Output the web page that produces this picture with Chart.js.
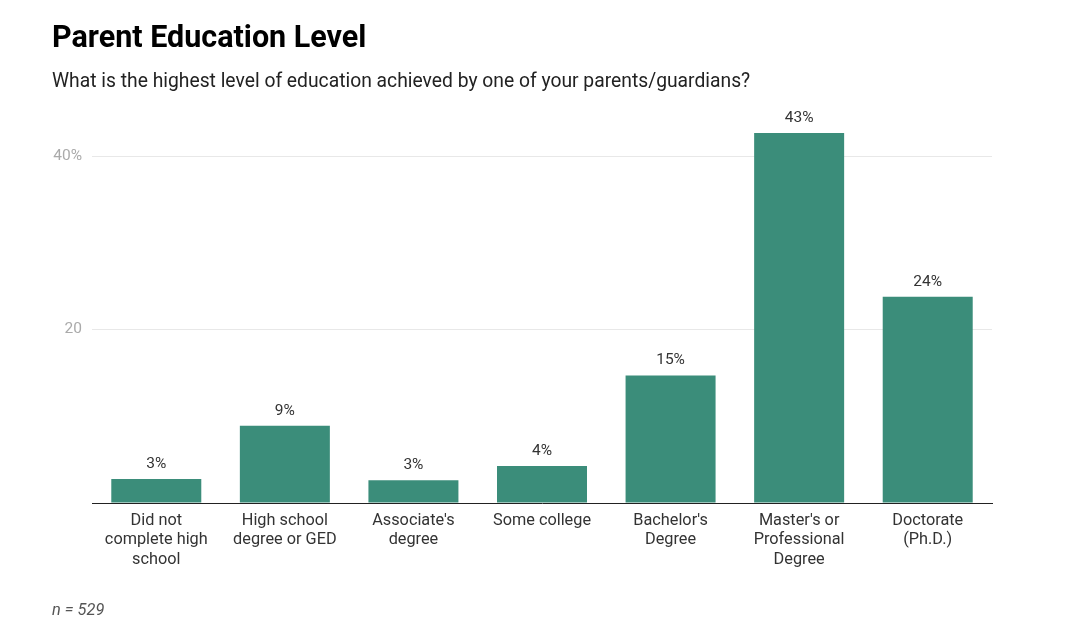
<!DOCTYPE html>
<html>
<head>
<meta charset="utf-8">
<script src="https://cdn.jsdelivr.net/npm/chart.js@4"></script>
<style>
  html, body { margin:0; padding:0; background:#fff; }
  body { width:1080px; height:625px; position:relative; overflow:hidden; font-family: Roboto, "Noto Sans", sans-serif; }
  .t { position:absolute; left:52px; line-height:1; white-space:nowrap; }
  #title { top:22px; font-size:30.5px; font-weight:700; color:#000; }
  #subtitle { top:71px; font-size:19.3px; color:#222; }
  #note { top:602px; font-size:16.4px; font-style:italic; color:#555; }
  #wrap { position:absolute; left:0; top:0; width:1080px; height:625px; }
</style>
</head>
<body>
<div id="wrap"><canvas id="c" width="1080" height="625"></canvas></div>
<div class="t" id="title">Parent Education Level</div>
<div class="t" id="subtitle">What is the highest level of education achieved by one of your parents/guardians?</div>
<div class="t" id="note">n = 529</div>
<script>
const categories = [
  ["Did not", "complete high", "school"],
  ["High school", "degree or GED"],
  ["Associate's", "degree"],
  ["Some college"],
  ["Bachelor's", "Degree"],
  ["Master's or", "Professional", "Degree"],
  ["Doctorate", "(Ph.D.)"]
];
const values = [2.76, 8.9, 2.61, 4.26, 14.71, 42.66, 23.77];
const valueLabels = ["3%", "9%", "3%", "4%", "15%", "43%", "24%"];
const yTickLabels = { 20: "20", 40: "40%" };

const labelPlugin = {
  id: 'barLabels',
  afterDatasetsDraw(chart) {
    const ctx = chart.ctx;
    const meta = chart.getDatasetMeta(0);
    ctx.save();
    ctx.font = '15.5px Roboto, "Noto Sans", sans-serif';
    ctx.fillStyle = '#333';
    ctx.textAlign = 'center';
    ctx.textBaseline = 'alphabetic';
    meta.data.forEach((bar, i) => {
      ctx.fillText(valueLabels[i], bar.x, bar.y - 11);
    });
    ctx.restore();
  }
};

new Chart(document.getElementById('c'), {
  type: 'bar',
  data: {
    labels: categories,
    datasets: [{
      data: values,
      backgroundColor: '#3b8d7a',
      borderWidth: 0,
      categoryPercentage: 0.7,
      barPercentage: 1.0
    }]
  },
  options: {
    responsive: false,
    animation: false,
    layout: { padding: { left: 0, top: 104, right: 88, bottom: 0 } },
    plugins: { legend: { display: false }, tooltip: { enabled: false } },
    scales: {
      x: {
        grid: { display: false, drawTicks: false },
        border: { display: true, color: '#222', width: 1 },
        ticks: {
          color: '#333',
          font: { family: 'Roboto, "Noto Sans", sans-serif', size: 16.3, lineHeight: 1.2 },
          padding: 8,
          maxRotation: 0,
          autoSkip: false
        },
        afterFit(s) { s.height = 122; }
      },
      y: {
        min: 0,
        max: 46,
        grid: {
          drawTicks: false,
          color: (c) => (c.tick && yTickLabels[c.tick.value]) ? '#e8e8e8' : 'rgba(0,0,0,0)',
          lineWidth: 1
        },
        border: { display: false },
        ticks: {
          stepSize: 20,
          padding: 10,
          color: '#aaa',
          font: { family: 'Roboto, "Noto Sans", sans-serif', size: 15.5 },
          callback: (v) => yTickLabels[v] || ''
        },
        afterFit(s) { s.width = 92; }
      }
    }
  },
  plugins: [labelPlugin]
});
</script>
</body>
</html>
